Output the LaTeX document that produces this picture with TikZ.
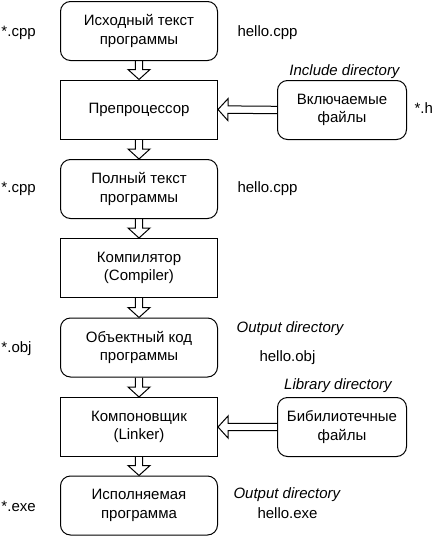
\documentclass[tikz,border=0pt]{standalone}
\usepackage{fontspec}
\setmainfont{Liberation Sans}
\usetikzlibrary{calc}

% hollow block arrow from #1 to #2
\newcommand{\fatarrow}[2]{%
  \draw[fat] ($(#1)!3.7pt!90:(#2)$)
    -- ($(#2)!10pt!(#1)!3.7pt!-90:(#1)$)
    -- ($(#2)!10pt!(#1)!11pt!-90:(#1)$)
    -- (#2)
    -- ($(#2)!10pt!(#1)!11pt!90:(#1)$)
    -- ($(#2)!10pt!(#1)!3.7pt!90:(#1)$)
    -- ($(#1)!3.7pt!-90:(#2)$);
}

\begin{document}
\begin{tikzpicture}[x=1pt, y=-1pt, line width=1pt,
  font=\fontsize{15}{18.5}\selectfont,
  block/.style={draw, minimum width=157pt, minimum height=59pt, inner sep=0pt, align=center},
  file/.style={block, rounded corners=10pt},
  incl/.style={file, minimum width=129pt},
  note/.style={anchor=base west, inner sep=0pt},
  dir/.style={anchor=base, inner sep=0pt, font=\fontsize{15}{18.5}\selectfont\itshape},
  fat/.style={line width=1pt, line join=miter}]
\useasboundingbox (0,0) rectangle (434,536);

% main chain
\node[file] (src) at (139,31) {Исходный текст\\программы};
\node[block] (pre) at (139,109.5) {Препроцессор};
\node[file] (full) at (139,189) {Полный текст\\программы};
\node[block] (comp) at (139,268) {Компилятор\\(Compiler)};
\node[file] (obj) at (139,347.5) {Объектный код\\программы};
\node[block] (link) at (139,427) {Компоновщик\\(Linker)};
\node[file] (exe) at (139,505.5) {Исполняемая\\программа};

% side inputs
\node[incl] (inc) at (342,110) {Включаемые\\файлы};
\node[incl] (lib) at (342,427) {Бибилиотечные\\файлы};

% file names
\node[note] (srcext) at (1,36) {*.cpp};
\node[note] (srcname) at (237,36) {hello.cpp};
\node[dir] (incdir) at (344.5,75.5) {Include directory};
\node[note] (incext) at (414,113) {*.h};
\node[note] (fullext) at (1,192) {*.cpp};
\node[note] (fullname) at (237,192) {hello.cpp};
\node[dir] (objdir) at (290,332) {Output directory};
\node[note] (objext) at (1,352) {*.obj};
\node[note] (objname) at (259,361) {hello.obj};
\node[dir] (libdir) at (338,389) {Library directory};
\node[note] (exeext) at (1,511) {*.exe};
\node[dir, anchor=base west] (exedir) at (233,498) {Output directory};
\node[note] (exename) at (257,518) {hello.exe};

% arrows
\foreach \a/\b in {src/pre, pre/full, full/comp, comp/obj, obj/link, link/exe}
  \fatarrow{\a.south}{\b.north};
\fatarrow{inc.west}{pre.east}
\fatarrow{lib.west}{link.east}
\end{tikzpicture}
\end{document}
